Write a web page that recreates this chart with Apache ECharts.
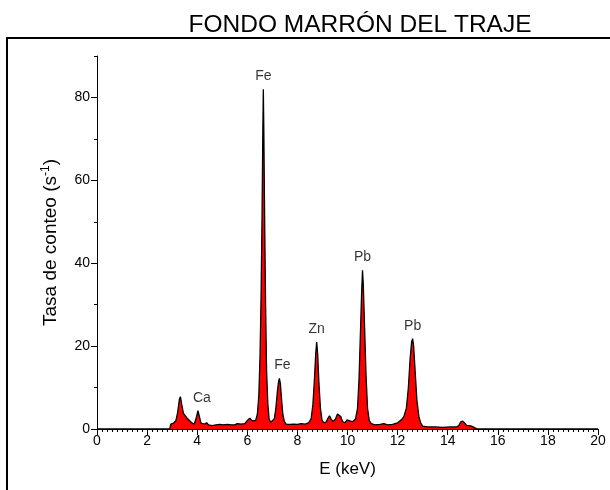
<!DOCTYPE html>
<html>
<head>
<meta charset="utf-8">
<script src="https://cdn.jsdelivr.net/npm/echarts@6/dist/echarts.min.js"></script>
<style>
html,body{margin:0;padding:0;background:#fff;}
#chart{width:610px;height:490px;}
</style>
</head>
<body>
<div id="chart"></div>
<script>
// Spectrum energies (keV) and count rates (s^-1)
const energy = [0, 2.9, 2.95, 3.05, 3.15, 3.22, 3.29, 3.33, 3.38, 3.45, 3.52, 3.6, 3.7, 3.8, 3.88, 3.95, 4.03, 4.09, 4.15, 4.22, 4.3, 4.38, 4.45, 4.6, 4.75, 4.82, 4.9, 5.05, 5.2, 5.35, 5.5, 5.6, 5.67, 5.75, 5.9, 6.02, 6.1, 6.18, 6.25, 6.33, 6.4, 6.46, 6.51, 6.55, 6.59, 6.62, 6.64, 6.66, 6.69, 6.73, 6.77, 6.82, 6.87, 6.93, 7.0, 7.08, 7.14, 7.2, 7.25, 7.28, 7.32, 7.37, 7.42, 7.48, 7.55, 7.7, 7.85, 8.0, 8.15, 8.3, 8.45, 8.55, 8.62, 8.68, 8.73, 8.77, 8.81, 8.86, 8.92, 8.98, 9.05, 9.15, 9.22, 9.28, 9.35, 9.43, 9.52, 9.6, 9.66, 9.73, 9.8, 9.9, 9.98, 10.05, 10.12, 10.22, 10.32, 10.4, 10.46, 10.52, 10.57, 10.6, 10.63, 10.68, 10.74, 10.8, 10.87, 10.95, 11.1, 11.3, 11.45, 11.6, 11.8, 12.0, 12.15, 12.25, 12.35, 12.43, 12.5, 12.56, 12.6, 12.64, 12.7, 12.77, 12.85, 12.92, 13.0, 13.2, 13.5, 13.8, 14.1, 14.35, 14.45, 14.52, 14.6, 14.68, 14.75, 14.85, 14.95, 15.05, 15.15, 15.25, 20];
const rate = [0, 0, 1.2, 1.4, 2.0, 4.0, 7.2, 7.8, 6.0, 3.8, 3.2, 2.6, 2.0, 1.4, 1.2, 2.4, 4.4, 3.0, 1.4, 1.0, 1.2, 1.5, 1.0, 0.8, 1.0, 1.3, 1.1, 1.0, 1.1, 1.0, 1.0, 1.3, 1.6, 1.2, 1.3, 2.2, 2.6, 2.0, 1.6, 2.0, 3.5, 8, 18, 32, 52, 72, 82, 72, 52, 30, 14, 6, 2.5, 1.6, 1.6, 2.5, 5, 9, 11.5, 12.2, 11, 7, 3.5, 1.8, 1.2, 1.1, 1.2, 1.1, 1.3, 1.2, 1.5, 2.5, 6, 12, 18, 21, 18, 11, 5, 2.2, 1.5, 1.7, 2.6, 3.2, 2.4, 1.8, 2.4, 3.6, 4.0, 3.0, 1.8, 1.5, 2.2, 2.4, 1.9, 1.8, 2.4, 5, 12, 24, 34, 38.3, 35, 25, 13, 5, 2, 1.3, 1.0, 1.1, 1.3, 1.0, 1.1, 1.5, 2.2, 3, 5, 10, 17, 21, 21.8, 20, 14, 7, 3, 1.5, 0.7, 0.5, 0.5, 0.4, 0.5, 0.5, 0.9, 1.7, 1.9, 1.4, 0.9, 0.8, 0.7, 0.4, 0.1, 0, 0];

// Peak annotations
const peakNames = ['Ca', 'Fe', 'Fe', 'Zn', 'Pb', 'Pb'];
const peakE = [4.03, 6.64, 7.28, 8.77, 10.6, 12.6];
const peakV = [4.4, 82, 12.2, 21, 38.3, 21.8];

// Axis ticks
const xTicks = [0, 2, 4, 6, 8, 10, 12, 14, 16, 18, 20];
const yTicks = [0, 20, 40, 60, 80];
const yMax = 90;

const titleText = 'FONDO MARRÓN DEL TRAJE';
const xName = 'E (keV)';

const FONT = '"Liberation Sans", Arial, sans-serif';

const spectrum = energy.map((e, i) => [e, rate[i]]);
const peaks = peakE.map((e, i) => ({
  value: [e, peakV[i]],
  name: peakNames[i],
  label: { offset: peakNames[i] === 'Ca' ? [4, 0] : (i === 2 ? [3, 0] : [0, 0]) }
}));

const chart = echarts.init(document.getElementById('chart'), null, { renderer: 'canvas' });

chart.setOption({
  animation: false,
  backgroundColor: '#fff',
  title: {
    text: titleText,
    left: 355,
    top: 8,
    textAlign: 'center',
    textStyle: { fontFamily: FONT, fontSize: 24.5, fontWeight: 'normal', color: '#000' }
  },
  graphic: [{
    type: 'rect',
    shape: { x: 7, y: 38, width: 700, height: 500 },
    style: { fill: 'none', stroke: '#000', lineWidth: 2 },
    silent: true
  }],
  grid: { left: 97, right: 12, top: 56, bottom: 61, containLabel: false },
  xAxis: {
    type: 'value',
    min: xTicks[0],
    max: xTicks[xTicks.length - 1],
    interval: xTicks[1] - xTicks[0],
    name: xName,
    nameLocation: 'middle',
    nameGap: 32,
    nameTextStyle: { fontFamily: FONT, fontSize: 17, color: '#000' },
    axisLine: { lineStyle: { color: '#000', width: 1 } },
    axisTick: { inside: false, length: 6, lineStyle: { color: '#000' } },
    minorTick: { show: true, splitNumber: 10, length: 3, lineStyle: { color: '#000' } },
    axisLabel: { fontFamily: FONT, fontSize: 14, color: '#000', margin: 5 },
    splitLine: { show: false }
  },
  yAxis: [{
    type: 'value',
    min: 0,
    max: yMax,
    interval: yTicks[1] - yTicks[0],
    name: 'Tasa de conteo (s{sup|-1})',
    nameLocation: 'middle',
    nameRotate: 90,
    nameGap: 36,
    nameTextStyle: {
      fontFamily: FONT, fontSize: 19, color: '#000',
      rich: { sup: { fontFamily: FONT, fontSize: 12, color: '#000', verticalAlign: 'top', padding: [0, 0, 9, 0] } }
    },
    axisLine: { show: true, lineStyle: { color: '#000', width: 1 } },
    axisTick: { inside: false, length: 6, lineStyle: { color: '#000' } },
    axisLabel: {
      fontFamily: FONT, fontSize: 14, color: '#000', margin: 7,
      showMaxLabel: false,
      formatter: v => (yTicks.indexOf(v) >= 0 ? String(v) : '')
    },
    splitLine: { show: false }
  }, {
    type: 'value',
    min: 0,
    max: yMax,
    interval: 10,
    position: 'left',
    axisLine: { show: false },
    axisTick: { inside: false, length: 3, lineStyle: { color: '#000' } },
    axisLabel: { show: false },
    splitLine: { show: false }
  }],
  series: [{
    type: 'line',
    data: spectrum,
    yAxisIndex: 0,
    showSymbol: false,
    symbol: 'none',
    lineStyle: { color: '#000', width: 1.3 },
    areaStyle: { color: '#ff0000', opacity: 1 },
    z: 2
  }, {
    type: 'scatter',
    data: peaks,
    yAxisIndex: 0,
    symbolSize: 0,
    silent: true,
    label: {
      show: true,
      position: 'top',
      distance: 6,
      formatter: p => p.name,
      fontFamily: FONT,
      fontSize: 14,
      color: '#000'
    },
    z: 3
  }]
});
</script>
</body>
</html>
